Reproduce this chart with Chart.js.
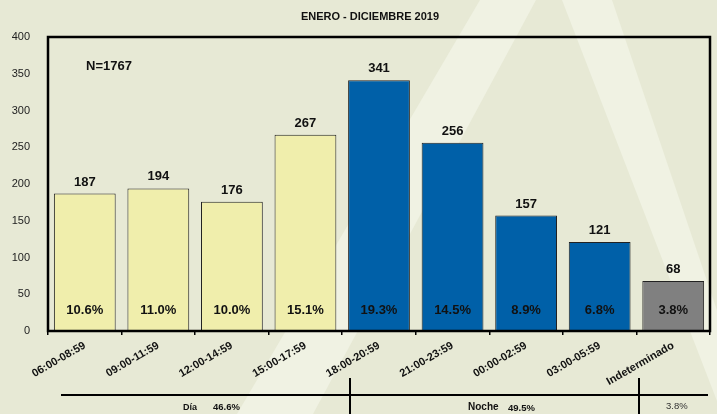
<!DOCTYPE html>
<html>
<head>
<meta charset="utf-8">
<script src="https://cdn.jsdelivr.net/npm/chart.js@4.4.1/dist/chart.umd.min.js"></script>
<style>
    html, body { margin: 0; padding: 0; background: #e7e9d5; }
    canvas { display: block; }
</style>
</head>
<body>
<canvas id="horasChart" width="717" height="414"></canvas>
<script>
const categories = ['06:00-08:59', '09:00-11:59', '12:00-14:59', '15:00-17:59', '18:00-20:59',
    '21:00-23:59', '00:00-02:59', '03:00-05:59', 'Indeterminado']
const counts = [187, 194, 176, 267, 341, 256, 157, 121, 68]
const percents = ['10.6%', '11.0%', '10.0%', '15.1%', '19.3%', '14.5%', '8.9%', '6.8%', '3.8%']
const periods = ['dia', 'dia', 'dia', 'dia', 'noche', 'noche', 'noche', 'noche', 'indet']
const yTicks = [0, 50, 100, 150, 200, 250, 300, 350, 400]
const title = 'ENERO - DICIEMBRE 2019'
const totalLabel = 'N=1767'
const groupNames = ['Día', 'Noche', '']
const groupPercents = ['46.6%', '49.5%', '3.8%']

const periodColors = {dia: '#f0eeac', noche: '#0060a8', indet: '#808080'}
const FONT = "'Liberation Sans', Arial, sans-serif"

const decorations = {
    id: 'decorations',
    beforeDraw(chart) {
        const ctx = chart.ctx
        ctx.save()
        ctx.fillStyle = '#e7e9d5'
        ctx.fillRect(0, 0, chart.width, chart.height)
        // faint watermark stripes
        ctx.fillStyle = '#f0f2e3'
        ctx.beginPath()
        ctx.moveTo(480, 0); ctx.lineTo(536, 0); ctx.lineTo(313, 414); ctx.lineTo(237, 414)
        ctx.closePath(); ctx.fill()
        ctx.beginPath()
        ctx.moveTo(562, 0); ctx.lineTo(612, 0); ctx.lineTo(752, 414); ctx.lineTo(722, 414)
        ctx.closePath(); ctx.fill()
        ctx.restore()
    },
    afterDatasetsDraw(chart) {
        const ctx = chart.ctx
        const area = chart.chartArea
        const meta = chart.getDatasetMeta(0)
        const zero = chart.scales.y.getPixelForValue(0)
        ctx.save()
        ctx.fillStyle = '#111'
        ctx.textAlign = 'center'
        ctx.textBaseline = 'alphabetic'
        ctx.font = 'bold 13px ' + FONT
        meta.data.forEach((bar, i) => {
            ctx.fillText(String(counts[i]), bar.x, bar.y - 8)
            ctx.fillText(percents[i], bar.x, zero - 17)
        })

        // plot frame
        ctx.strokeStyle = '#000'
        ctx.lineWidth = 2.5
        ctx.strokeRect(area.left, area.top, area.right - area.left, area.bottom - area.top)

        ctx.textAlign = 'left'
        ctx.fillText(totalLabel, 86, 70)

        ctx.textAlign = 'center'
        ctx.font = 'bold 11px ' + FONT
        ctx.fillText(title, 370, 20)

        // day / night grouping under the axis
        ctx.lineWidth = 2
        ctx.beginPath()
        ctx.moveTo(61, 395); ctx.lineTo(708, 395)
        ctx.moveTo(350, 378); ctx.lineTo(350, 414)
        ctx.moveTo(639, 378); ctx.lineTo(639, 414)
        ctx.stroke()

        ctx.textAlign = 'left'
        ctx.font = 'bold 9px ' + FONT
        ctx.fillText(groupNames[0], 183, 410)
        ctx.font = 'bold 9.5px ' + FONT
        ctx.fillText(groupPercents[0], 213, 410)
        ctx.font = 'bold 10px ' + FONT
        ctx.fillText(groupNames[1], 468, 410)
        ctx.font = 'bold 9.5px ' + FONT
        ctx.fillText(groupPercents[1], 508, 411)
        ctx.fillStyle = '#333'
        ctx.font = '9.5px ' + FONT
        ctx.fillText(groupPercents[2], 666, 409)
        ctx.restore()
    }
}

new Chart(document.getElementById('horasChart'), {
    type: 'bar',
    data: {
        labels: categories,
        datasets: [{
            data: counts,
            backgroundColor: periods.map(p => periodColors[p]),
            borderColor: '#222',
            borderWidth: 1,
            barPercentage: 0.84,
            categoryPercentage: 1
        }]
    },
    options: {
        responsive: false,
        animation: false,
        devicePixelRatio: 1,
        layout: {padding: {top: 37, right: 7, left: 0, bottom: 0}},
        plugins: {
            legend: {display: false},
            tooltip: {enabled: false}
        },
        scales: {
            x: {
                grid: {display: true, drawOnChartArea: false, drawTicks: true, tickLength: 4, color: '#000', lineWidth: 1.5, offset: true},
                border: {display: false},
                ticks: {
                    color: '#111',
                    font: {family: FONT, size: 11, weight: 'bold'},
                    minRotation: 30,
                    maxRotation: 30,
                    autoSkip: false,
                    padding: 4
                },
                afterFit(scale) { scale.height = 83 }
            },
            y: {
                min: 0,
                max: 400,
                grid: {display: false},
                border: {display: false},
                afterBuildTicks(scale) { scale.ticks = yTicks.map(v => ({value: v})) },
                ticks: {
                    color: '#222',
                    font: {family: FONT, size: 11},
                    padding: 10
                },
                afterFit(scale) { scale.width = 48 }
            }
        }
    },
    plugins: [decorations]
})
</script>
</body>
</html>
